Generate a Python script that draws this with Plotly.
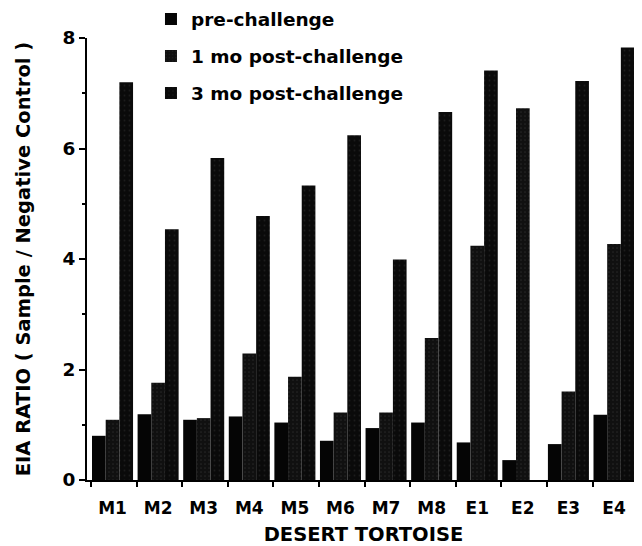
import plotly.graph_objects as go

categories = ["M1", "M2", "M3", "M4", "M5", "M6", "M7", "M8", "E1", "E2", "E3", "E4"]
pre_challenge = [0.80, 1.19, 1.09, 1.15, 1.04, 0.71, 0.94, 1.04, 0.68, 0.36, 0.65, 1.18]
post_1mo = [1.09, 1.76, 1.12, 2.29, 1.87, 1.22, 1.22, 2.57, 4.24, 6.73, 1.60, 4.27]
post_3mo = [7.20, 4.54, 5.83, 4.78, 5.33, 6.24, 3.99, 6.66, 7.41, None, 7.22, 7.83]
series_names = ["pre-challenge", "1 mo post-challenge", "3 mo post-challenge"]

y_major = [0, 2, 4, 6, 8]
y_minor = [1, 3, 5, 7]

xpos = list(range(len(categories)))
boundaries = [i - 0.472 for i in range(len(categories) + 1)]

FONT = "DejaVu Sans, Liberation Sans, Arial, sans-serif"

fig = go.Figure()
styles = [
    dict(color="#050505"),
    dict(color="#121212", pattern=dict(shape=".", bgcolor="#101010", fgcolor="#3a3a3a", size=4, solidity=0.15)),
    dict(color="#0c0c0c", pattern=dict(shape=".", bgcolor="#0a0a0a", fgcolor="#2e2e2e", size=5, solidity=0.1)),
]
for name, vals, st in zip(series_names, [pre_challenge, post_1mo, post_3mo], styles):
    fig.add_trace(go.Bar(
        x=xpos, y=vals, name=name, legendgroup=name,
        marker=dict(line=dict(width=0), **st),
    ))

fig.update_layout(
    width=634, height=538,
    margin=dict(l=79, r=2, t=30, b=66, autoexpand=False),
    paper_bgcolor="white", plot_bgcolor="white",
    barmode="group", bargap=0.1, bargroupgap=0,
    font=dict(family=FONT, color="black", size=18, weight="bold"),
    showlegend=True,
    legend=dict(
        x=0.1157, xanchor="left", y=1.085, yanchor="top",
        bgcolor="rgba(0,0,0,0)", borderwidth=0,
        font=dict(family=FONT, size=18.5, color="black", weight="bold"),
        tracegroupgap=10, itemwidth=30,
    ),
    xaxis=dict(
        range=[-0.56, 11.57],
        automargin=False,
        tickmode="array", tickvals=xpos, ticktext=categories,
        tickangle=0,
        ticks="outside", ticklen=0, tickcolor="black",
        ticklabelstandoff=12,
        tickfont=dict(family=FONT, size=17, color="black", weight="bold"),
        showline=True, linecolor="black", linewidth=2,
        showgrid=False, zeroline=False,
        minor=dict(tickmode="array", tickvals=boundaries, ticks="outside", ticklen=5,
                   tickwidth=2, tickcolor="black", showgrid=False),
        title=dict(text="DESERT TORTOISE", standoff=12,
                   font=dict(family=FONT, size=19.5, color="black", weight="bold")),
    ),
    yaxis=dict(
        range=[0, 8],
        automargin=False,
        tickmode="array", tickvals=y_major,
        ticks="outside", ticklen=6, tickwidth=2, tickcolor="black",
        ticklabelstandoff=0,
        tickfont=dict(family=FONT, size=18.5, color="black", weight="bold"),
        showline=True, linecolor="black", linewidth=2,
        showgrid=False, zeroline=False,
        minor=dict(tickmode="array", tickvals=y_minor, ticks="outside", ticklen=3,
                   tickwidth=2, tickcolor="black", showgrid=False),
        title=dict(text="EIA RATIO ( Sample / Negative Control )", standoff=27,
                   font=dict(family=FONT, size=19.5, color="black", weight="bold")),
    ),
)

fig.write_html("out.html")
